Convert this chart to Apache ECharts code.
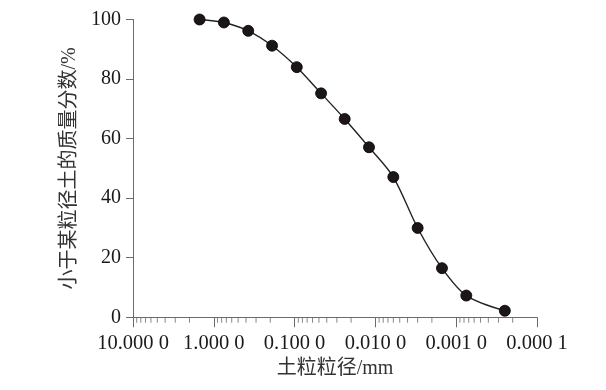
<!DOCTYPE html>
<html>
<head>
<meta charset="utf-8">
<script src="https://cdn.jsdelivr.net/npm/echarts@6/dist/echarts.min.js"></script>
<style>
html,body{margin:0;padding:0;background:#fff;}
#main{width:606px;height:390px;}
</style>
</head>
<body>
<div id="main"></div>
<script>
// particle diameter (mm)
var diameters = [1.5, 0.75, 0.375, 0.19, 0.094, 0.047, 0.024, 0.012, 0.006, 0.003, 0.0015, 0.00075, 0.00025];
// mass percentage finer than (%)
var percentFiner = [100, 99, 96.2, 91.2, 84, 75.2, 66.6, 57.1, 47.1, 30, 16.5, 7.3, 2.2];
var xTickLabels = ['10.000 0', '1.000 0', '0.100 0', '0.010 0', '0.001 0', '0.000 1'];
var yTicks = [0, 20, 40, 60, 80, 100];
var xAxisName = '土粒粒径/mm';
var yAxisName = '小于某粒径土的质量分数/%';

// minor tick positions (2..9 within each decade)
var decades = [10, 1, 0.1, 0.01, 0.001];
var multipliers = [0.2, 0.3, 0.4, 0.5, 0.6, 0.7, 0.8, 0.9];
var minorTicks = [];
decades.forEach(function (d) {
  multipliers.forEach(function (m) { minorTicks.push([d * m, 0]); });
});

var points = diameters.map(function (d, i) { return [d, percentFiner[i]]; });
var FONT = "'Liberation Serif', 'Noto Sans CJK SC', serif";
var AXIS_COLOR = '#6b6b6b';

var chart = echarts.init(document.getElementById('main'), null, {renderer: 'canvas'});
chart.setOption({
  animation: false,
  backgroundColor: '#ffffff',
  grid: {left: 133, right: 69, top: 19.5, bottom: 72.7, containLabel: false},
  xAxis: {
    type: 'log',
    logBase: 10,
    min: 0.0001,
    max: 10,
    inverse: true,
    name: xAxisName,
    nameLocation: 'middle',
    nameGap: 37,
    nameTextStyle: {fontFamily: FONT, fontSize: 20, color: '#333'},
    axisLine: {show: true, lineStyle: {color: AXIS_COLOR, width: 1}},
    axisTick: {show: true, inside: false, length: 10, lineStyle: {color: AXIS_COLOR, width: 1}},
    minorTick: {show: false},
    splitLine: {show: false},
    axisLabel: {
      margin: 16,
      fontFamily: FONT,
      fontSize: 20.5,
      color: '#1a1a1a',
      showMinLabel: true,
      showMaxLabel: true,
      formatter: function (v) {
        var idx = Math.round(1 - Math.log(v) / Math.LN10);
        return xTickLabels[idx] !== undefined ? xTickLabels[idx] : '';
      }
    }
  },
  yAxis: {
    type: 'value',
    min: yTicks[0],
    max: yTicks[yTicks.length - 1],
    interval: 20,
    name: yAxisName,
    nameLocation: 'middle',
    nameGap: 47,
    nameRotate: 90,
    nameTextStyle: {fontFamily: FONT, fontSize: 20, color: '#333'},
    axisLine: {show: true, lineStyle: {color: AXIS_COLOR, width: 1}},
    axisTick: {show: true, inside: false, length: 7, lineStyle: {color: AXIS_COLOR, width: 1}},
    splitLine: {show: false},
    axisLabel: {margin: 12, fontFamily: FONT, fontSize: 20, color: '#1a1a1a'}
  },
  series: [
    {
      type: 'scatter',
      data: minorTicks,
      symbol: 'rect',
      symbolSize: [1, 5],
      symbolOffset: [0, 3],
      itemStyle: {color: AXIS_COLOR},
      clip: false,
      silent: true,
      z: 1
    },
    {
      type: 'line',
      data: points,
      smooth: 0.3,
      symbol: 'circle',
      symbolSize: 11,
      showSymbol: true,
      lineStyle: {color: '#222', width: 1.4},
      itemStyle: {color: '#1c1616', borderColor: '#000', borderWidth: 0.8},
      z: 3
    }
  ]
});
</script>
</body>
</html>
